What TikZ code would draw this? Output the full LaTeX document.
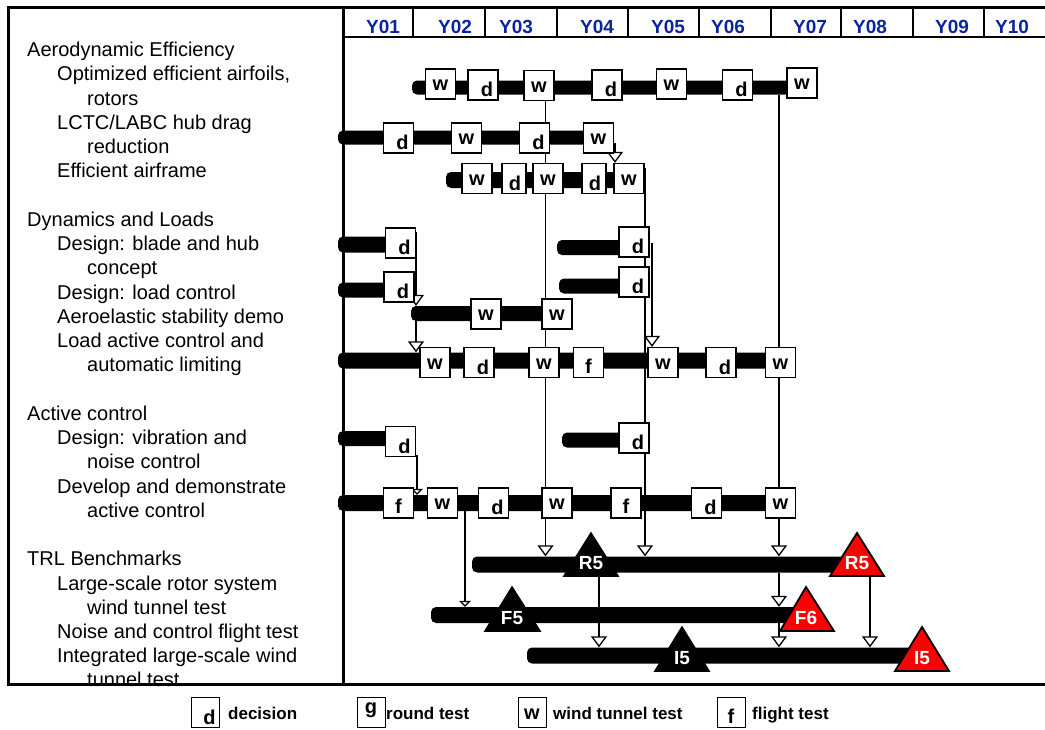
\documentclass[tikz,border=0pt]{standalone}
\usepackage{fontspec}
\setmainfont{Liberation Sans}
\usetikzlibrary{arrows.meta}
\definecolor{hdrblue}{RGB}{10,35,160}
\definecolor{trlred}{RGB}{255,0,0}
\pgfdeclarelayer{paper}
\pgfdeclarelayer{bg}
\pgfsetlayers{paper,bg,main}
\newcommand{\boxlet}[3]{\raisebox{#3}[0pt][0pt]{\makebox[0pt]{\hspace*{#2}#1}}}
\newcommand{\bxd}{\boxlet{d}{8pt}{-11.5pt}}
\newcommand{\bxw}{\boxlet{w}{0pt}{-6.5pt}}
\newcommand{\bxf}{\boxlet{f}{0pt}{-10.5pt}}
\newcommand{\bxg}{\boxlet{g}{0pt}{-1pt}}
\tikzset{
  tbox/.style={draw, line width=1.3pt, fill=white, minimum width=30pt, minimum height=30pt, inner sep=0pt, font=\fontsize{20}{20}\selectfont\bfseries},
  narrowbox/.style={minimum width=24pt},
  legbox/.style={draw, line width=1pt, fill=white, minimum width=28pt, minimum height=30pt, inner sep=0pt, font=\fontsize{20}{20}\selectfont\bfseries},
  legtext/.style={anchor=base west, inner sep=0pt, font=\fontsize{17}{17}\selectfont\bfseries},
  bar/.style={fill=black, rounded corners=5pt, inner sep=0pt, minimum height=15pt},
  conn/.style={line width=1.6pt, -{Triangle[width=16pt, length=11pt, fill=white, line width=1.3pt]}},
  smallconn/.style={line width=1.6pt, -{Triangle[width=12pt, length=6pt, fill=white, line width=1.2pt]}},
  hdr/.style={font=\fontsize{19}{19}\selectfont\bfseries, text=hdrblue, inner sep=0pt},
  lt0/.style={anchor=base west, inner sep=0pt, font=\fontsize{20}{20}\selectfont},
  trib/.style={fill=black, draw=black, line width=1.5pt, line join=miter},
  trir/.style={fill=trlred, draw=black, line width=1.8pt, line join=miter},
  trilab/.style={font=\fontsize{19}{19}\selectfont\bfseries, text=white, inner sep=0pt},
}
\begin{document}
\begin{tikzpicture}[x=1pt,y=-1pt]
\useasboundingbox (0,0) rectangle (1045,729);
\begin{pgfonlayer}{paper}
\fill[white] (0,0) rectangle (1045,729);
\end{pgfonlayer}

% ---------- bars ----------
\node[bar, minimum width=378pt, minimum height=14pt] (b1) at (601,87.5) {};
\node[bar, minimum width=252pt, minimum height=14pt] (b2) at (464,137.5) {};
\node[bar, minimum width=179pt, minimum height=16pt] (b3) at (535.5,180) {};
\node[bar, minimum width=57pt, minimum height=16pt] (b4l) at (366.5,244.5) {};
\node[bar, minimum width=68pt, minimum height=15pt] (b4r) at (591,247.5) {};
\node[bar, minimum width=57pt, minimum height=15pt] (b5l) at (366.5,290) {};
\node[bar, minimum width=66pt, minimum height=15pt] (b5r) at (592,286) {};
\node[bar, minimum width=149pt, minimum height=15pt] (b6) at (485.5,313.5) {};
\node[bar, minimum width=447pt, minimum height=16pt] (b7) at (561.5,360.5) {};
\node[bar, minimum width=57pt, minimum height=15pt] (b8l) at (366.5,438.5) {};
\node[bar, minimum width=63pt, minimum height=15pt] (b8r) at (593.5,440) {};
\node[bar, minimum width=447pt, minimum height=16pt] (b9) at (561.5,503) {};
\node[bar, minimum width=388pt, minimum height=16pt] (bR) at (666,564.5) {};
\node[bar, minimum width=369pt, minimum height=16pt] (bF) at (615.5,615) {};
\node[bar, minimum width=393pt, minimum height=16pt] (bI) at (723.5,655.5) {};

% ---------- boxes ----------
\node[tbox] (r1a) at (440.5,84) {\bxw};
\node[tbox] (r1b) at (483,85) {\bxd};
\node[tbox] (r1c) at (539,85.5) {\bxw};
\node[tbox] (r1d) at (607,85) {\bxd};
\node[tbox] (r1e) at (671.5,84) {\bxw};
\node[tbox] (r1f) at (737.5,85) {\bxd};
\node[tbox] (r1g) at (802,83) {\bxw};

\node[tbox] (r2a) at (398.5,138) {\bxd};
\node[tbox] (r2b) at (466.5,138) {\bxw};
\node[tbox] (r2c) at (534.5,138) {\bxd};
\node[tbox] (r2d) at (598.5,138) {\bxw};

\node[tbox] (r3a) at (477,178.5) {\bxw};
\node[tbox, narrowbox] (r3b) at (514,178.5) {\boxlet{d}{2pt}{-11.5pt}};
\node[tbox] (r3c) at (548,178.5) {\bxw};
\node[tbox, narrowbox] (r3d) at (594,178.5) {\boxlet{d}{2pt}{-11.5pt}};
\node[tbox] (r3e) at (629,178.5) {\bxw};

\node[tbox] (r4a) at (400.5,243) {\bxd};
\node[tbox] (r4b) at (634,242) {\bxd};
\node[tbox] (r5a) at (399,287) {\bxd};
\node[tbox] (r5b) at (634,282) {\bxd};

\node[tbox] (r6a) at (486,314) {\bxw};
\node[tbox] (r6b) at (557,314) {\bxw};

\node[tbox] (r7a) at (435,362.5) {\bxw};
\node[tbox] (r7b) at (479,362.5) {\bxd};
\node[tbox] (r7c) at (544,362.5) {\bxw};
\node[tbox] (r7d) at (588.5,362.5) {\bxf};
\node[tbox] (r7e) at (663,362.5) {\bxw};
\node[tbox] (r7f) at (721,362.5) {\bxd};
\node[tbox] (r7g) at (780.5,362.5) {\bxw};

\node[tbox] (r8a) at (400.5,441.5) {\bxd};
\node[tbox] (r8b) at (634,438) {\bxd};

\node[tbox] (r9a) at (398.5,503) {\bxf};
\node[tbox] (r9b) at (442.5,503) {\bxw};
\node[tbox] (r9c) at (493.5,503) {\bxd};
\node[tbox] (r9d) at (557,503) {\bxw};
\node[tbox] (r9e) at (626,503) {\bxf};
\node[tbox] (r9f) at (706.5,503) {\bxd};
\node[tbox] (r9g) at (780.5,503) {\bxw};

% ---------- TRL triangles ----------
\draw[trib] (591,533) -- (618,576) -- (564,576) -- cycle;
\node[trilab] (tR5a) at (591,563) {R5};
\draw[trir] (857,533) -- (884,576) -- (830,576) -- cycle;
\node[trilab] (tR5b) at (857,563) {R5};
\draw[trib] (512,587) -- (540,631) -- (485,631) -- cycle;
\node[trilab] (tF5) at (512,618) {F5};
\draw[trir] (806,587) -- (834,631) -- (780,631) -- cycle;
\node[trilab] (tF6) at (806,618) {F6};
\draw[trib] (682,627) -- (709,671) -- (655,671) -- cycle;
\node[trilab] (tI5a) at (682,658) {I5};
\draw[trir] (922,627) -- (949,671) -- (895,671) -- cycle;
\node[trilab] (tI5b) at (922,658) {I5};

% ---------- connectors (behind) ----------
\coordinate (c1) at (545.5,100);
\coordinate (c2) at (645,168);
\coordinate (c3) at (779,95);
\coordinate (c4) at (615,143);
\coordinate (c5) at (416,232);
\coordinate (c6) at (652,243);
\coordinate (c7) at (417,455);
\coordinate (c8) at (465,510);
\coordinate (c9) at (599,576);
\coordinate (c10) at (870,577);
\begin{pgfonlayer}{bg}
\draw[conn] (c1) -- (c1 |- bR.north);
\draw[conn] (c2) -- (c2 |- bR.north);
\draw[conn] (c3) -- (c3 |- bR.north);
\draw[conn] (c3 |- bR.south) -- (c3 |- bF.north);
\draw[conn] (c3 |- bF.south) -- (c3 |- bI.north);
\draw[conn] (c4) -- (c4 |- r3e.north);
\draw[conn] (c5) -- (c5 |- b6.north);
\draw[conn] (c5 |- b6.north) -- (c5 |- b7.north);
\draw[conn] (c6) -- (c6 |- r7e.north);
\draw[smallconn] (c7) -- (c7 |- b9.north);
\draw[smallconn] (c8) -- (c8 |- bF.north);
\draw[conn] (c9) -- (c9 |- bI.north);
\draw[conn] (c10) -- (c10 |- bI.north);
\end{pgfonlayer}

% ---------- header ----------
\foreach \xx in {413,485,557,628,699,771,841,913,984}
  \draw[line width=1.5pt] (\xx,7.5) -- (\xx,37);
\node[hdr] (y01) at (383,27) {Y01};
\node[hdr] (y02) at (455,27) {Y02};
\node[hdr] (y03) at (516,27) {Y03};
\node[hdr] (y04) at (597,27) {Y04};
\node[hdr] (y05) at (668,27) {Y05};
\node[hdr] (y06) at (728,27) {Y06};
\node[hdr] (y07) at (810,27) {Y07};
\node[hdr] (y08) at (870,27) {Y08};
\node[hdr] (y09) at (952,27) {Y09};
\node[hdr] (y10) at (1012,27) {Y10};

% ---------- left texts ----------
\node[lt0] (t0) at (27,56.5) {Aerodynamic Efficiency};
\node[lt0] (t1) at (57,80.75) {Optimized efficient airfoils,};
\node[lt0] (t2) at (87,105) {rotors};
\node[lt0] (t3) at (57,129.25) {LCTC/LABC hub drag};
\node[lt0] (t4) at (87,153.5) {reduction};
\node[lt0] (t5) at (57,177.75) {Efficient airframe};
\node[lt0] (t7) at (27,226.25) {Dynamics and Loads};
\node[lt0] (t8) at (57,250.5) {Design: blade and hub};
\node[lt0] (t9) at (87,274.75) {concept};
\node[lt0] (t10) at (57,299) {Design: load control};
\node[lt0] (t11) at (57,323.25) {Aeroelastic stability demo};
\node[lt0] (t12) at (57,347.5) {Load active control and};
\node[lt0] (t13) at (87,371.75) {automatic limiting};
\node[lt0] (t15) at (27,420.25) {Active control};
\node[lt0] (t16) at (57,444.5) {Design: vibration and};
\node[lt0] (t17) at (87,468.75) {noise control};
\node[lt0] (t18) at (57,493) {Develop and demonstrate};
\node[lt0] (t19) at (87,517.25) {active control};
\node[lt0] (t21) at (27,565.75) {TRL Benchmarks};
\node[lt0] (t22) at (57,590) {Large-scale rotor system};
\node[lt0] (t23) at (87,614.25) {wind tunnel test};
\node[lt0] (t24) at (57,638.5) {Noise and control flight test};
\node[lt0] (t25) at (57,662.75) {Integrated large-scale wind};
\node[lt0] (t26) at (87,686.5) {tunnel test};

% ---------- frame ----------
\draw[line width=3pt] (1060,7.5) -- (8.5,7.5) -- (8.5,684.5) -- (1060,684.5);
\draw[line width=3pt] (343,7.5) -- (343,684.5);
\draw[line width=2pt] (343,37) -- (1060,37);

% ---------- legend ----------
\node[legbox] (ld) at (205.5,712.5) {\bxd};
\node[legtext] (ldt) at (228,719) {decision};
\node[legbox] (lg) at (371,712.5) {\bxg};
\node[legtext] (lgt) at (386,719) {round test};
\node[legbox] (lw) at (532,712.5) {\bxw};
\node[legtext] (lwt) at (553,719) {wind tunnel test};
\node[legbox] (lf) at (731,712.5) {\bxf};
\node[legtext] (lft) at (752,719) {flight test};
\end{tikzpicture}
\end{document}
